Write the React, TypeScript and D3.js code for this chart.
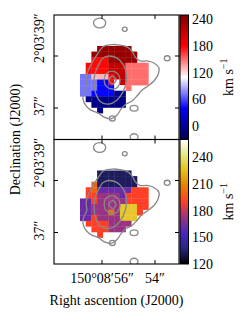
import React, { useEffect, useRef } from "react";
import * as d3 from "d3";

const _ = null;

// line-of-sight velocity (km/s), rows north->south, columns east->west
const velocity: (number | null)[][] = [
  [_, _, _, 238, 238, 238, 238, 238, 238, _, _, _],
  [_, _, 238, 238, 238, 238, 238, 238, 238, 238, _, _],
  [_, _, 178, 178, 178, 238, 238, 238, 238, 238, _, _],
  [_, 178, 178, 178, 178, 212, 212, 212, 150, 150, 150, 150],
  [_, 178, 178, 178, 178, 212, 212, 212, 150, 150, 150, 150],
  [72, 72, 130, 130, 130, 178, 212, 212, 150, 150, 150, 150],
  [72, 72, 72, 42, 42, 178, 108, 212, 150, 150, 150, 150],
  [72, 72, 72, 42, 42, 42, 108, 108, 150, _, _, _],
  [72, 72, 42, 42, 42, 42, -8, -8, _, _, _, _],
  [_, -8, -8, -8, -8, -8, -8, -8, _, _, _, _],
  [_, _, -8, -8, -8, -8, -8, -8, _, _, _, _],
  [_, _, _, -8, _, _, _, _, _, _, _, _],
];

// velocity dispersion (km/s)
const dispersion: (number | null)[][] = [
  [_, _, _, 133, 133, 133, 133, 133, 133, _, _, _],
  [_, _, _, 133, 133, 133, 133, 133, 133, 133, _, _],
  [_, _, 200, 133, 133, 133, 133, 133, 133, 133, _, _],
  [_, 190, 200, 162, 162, 162, 162, 162, 162, 190, 190, 190],
  [_, 190, 190, 172, 172, 172, 172, 162, 190, 190, 190, 190],
  [162, 162, 190, 172, 172, 172, 172, 172, 190, 190, 190, 190],
  [162, 162, 172, 172, 172, 172, 172, 228, 228, 228, 190, 190],
  [162, 162, 172, 172, 172, 205, 172, 228, 228, 228, 190, _],
  [162, 162, 190, 172, 172, 172, 172, 228, 228, 228, _, _],
  [_, 190, 190, 190, 190, 172, 172, 172, 172, _, _, _],
  [_, _, 190, 190, 190, 172, 172, 172, _, _, _, _],
  [_, _, _, 190, _, _, _, _, _, _, _, _],
];

// map grid: NE corner (arcsec of 150°08' / 2°03') and pixel size
const gridRa0 = 56.83;
const gridDec0 = 39.385;
const gridPix = 0.215;

const velTicks = [0, 60, 120, 180, 240];
const sigTicks = [120, 150, 180, 210, 240];
const raTicks = [56, 54];
const raLabels = ["150°08′56″", "54″"];
const decTicks = [39, 37];
const decLabels = ["2°03′39″", "37″"];

// continuum contours, [ra", dec"]
const contourOuter: [number, number][] = [
  [55.92, 39.38], [55.62, 39.44], [55.32, 39.42], [55.06, 39.35], [54.87, 39.19],
  [54.75, 38.96], [54.57, 38.81], [54.3, 38.81], [54.04, 38.73], [53.85, 38.54],
  [53.89, 38.27], [54.04, 38.04], [54.26, 37.85], [54.49, 37.69], [54.68, 37.46],
  [54.87, 37.27], [55.09, 37.15], [55.28, 36.96], [55.43, 36.73], [55.66, 36.58],
  [55.92, 36.65], [56.15, 36.81], [56.42, 36.92], [56.6, 37.08], [56.72, 37.35],
  [56.68, 37.62], [56.57, 37.85], [56.6, 38.12], [56.53, 38.42], [56.38, 38.73],
  [56.19, 39.04], [56.04, 39.27],
];
const contourMid: [number, number][] = [
  [55.74, 39.0], [55.43, 38.92], [55.21, 38.69], [55.09, 38.38], [55.09, 38.0],
  [55.21, 37.62], [55.43, 37.31], [55.74, 37.15], [56.04, 37.23], [56.23, 37.54],
  [56.3, 37.92], [56.26, 38.35], [56.11, 38.69], [55.96, 38.92],
];
const contourInner: [number, number][] = [
  [55.62, 38.42], [55.4, 38.31], [55.32, 38.08], [55.4, 37.81],
  [55.62, 37.73], [55.85, 37.85], [55.92, 38.08], [55.85, 38.31],
];
const contourCore: [number, number][] = [
  [55.6, 38.23], [55.47, 38.08], [55.6, 37.92], [55.74, 38.08],
];
// small blobs: [ra", dec", rRa", rDec"]
const blobs: [number, number, number, number][] = [
  [56.09, 40.27, 0.23, 0.19],
  [55.14, 40.03, 0.09, 0.08],
  [53.54, 38.91, 0.11, 0.1],
  [54.79, 36.99, 0.15, 0.11],
  [55.61, 36.6, 0.11, 0.1],
  [54.79, 35.88, 0.15, 0.13],
];

const seismic = d3
  .scaleLinear<string>()
  .domain([-30, 40, 110, 180, 250])
  .range(["#00004d", "#0000ff", "#ffffff", "#ff0000", "#800000"])
  .clamp(true);

const cmrStops = [0, 0.125, 0.25, 0.375, 0.5, 0.625, 0.75, 0.875, 1];
const cmrmap = d3
  .scaleLinear<string>()
  .domain(cmrStops.map((t) => 120 + t * 140))
  .range(["#000000", "#262680", "#4d26bf", "#993380", "#ff4026", "#e68000", "#e6bf1a", "#e6e680", "#ffffff"])
  .clamp(true);

const panels = [
  { grid: velocity, color: seismic, domain: [-30, 250], ticks: velTicks, top: 15 },
  { grid: dispersion, color: cmrmap, domain: [120, 260], ticks: sigTicks, top: 139.5 },
];

const font = "Liberation Serif, Times New Roman, serif";

const App: React.FC = () => {
  const svgRef = useRef<SVGSVGElement>(null);

  useEffect(() => {
    const svg = d3.select(svgRef.current);
    svg.selectAll("*").remove();

    const left = 54;
    const pw = 125;
    const ph = 124.5;
    const cbX = 180;
    const cbW = 8.5;

    const x = d3.scaleLinear().domain([56, 54]).range([48, 101]);
    const y = d3.scaleLinear().domain([39, 37]).range([41, 93]);

    const line = d3
      .line<[number, number]>()
      .x((d) => x(d[0]))
      .y((d) => y(d[1]))
      .curve(d3.curveCatmullRomClosed);

    const defs = svg.append("defs");

    panels.forEach((p, i) => {
      const g = svg.append("g").attr("transform", `translate(${left},${p.top})`);

      defs
        .append("clipPath")
        .attr("id", `clip${i}`)
        .append("rect")
        .attr("width", pw)
        .attr("height", ph);

      const inner = g.append("g").attr("clip-path", `url(#clip${i})`);

      // pixels
      p.grid.forEach((row, r) => {
        row.forEach((v, c) => {
          if (v === null) return;
          const x0 = x(gridRa0 - c * gridPix);
          const x1 = x(gridRa0 - (c + 1) * gridPix);
          const y0 = y(gridDec0 - r * gridPix);
          const y1 = y(gridDec0 - (r + 1) * gridPix);
          inner
            .append("rect")
            .attr("x", x0)
            .attr("y", y0)
            .attr("width", x1 - x0 + 0.3)
            .attr("height", y1 - y0 + 0.3)
            .attr("fill", p.color(v));
        });
      });

      // contours
      [contourOuter, contourMid, contourInner, contourCore].forEach((pts) => {
        inner
          .append("path")
          .attr("d", line(pts))
          .attr("fill", "none")
          .attr("stroke", "#888")
          .attr("stroke-width", 1.3);
      });
      blobs.forEach((b) => {
        inner
          .append("ellipse")
          .attr("cx", x(b[0]))
          .attr("cy", y(b[1]))
          .attr("rx", b[2] * 26.5)
          .attr("ry", b[3] * 26)
          .attr("fill", "none")
          .attr("stroke", "#888")
          .attr("stroke-width", 1.3);
      });

      // frame
      g.append("rect")
        .attr("width", pw)
        .attr("height", ph)
        .attr("fill", "none")
        .attr("stroke", "black")
        .attr("stroke-width", 1.1);

      // ticks (inward)
      raTicks.forEach((t) => {
        g.append("line").attr("x1", x(t)).attr("x2", x(t)).attr("y1", 0).attr("y2", 4).attr("stroke", "black");
        g.append("line").attr("x1", x(t)).attr("x2", x(t)).attr("y1", ph).attr("y2", ph - 4).attr("stroke", "black");
      });
      decTicks.forEach((t, k) => {
        g.append("line").attr("x1", 0).attr("x2", 4).attr("y1", y(t)).attr("y2", y(t)).attr("stroke", "black");
        g.append("line").attr("x1", pw).attr("x2", pw - 4).attr("y1", y(t)).attr("y2", y(t)).attr("stroke", "black");
        const lbl = g
          .append("text")
          .attr("font-family", font)
          .attr("font-size", 14)
          .text(decLabels[k]);
        if (k === 0) {
          lbl.attr("text-anchor", "start").attr("transform", `translate(-10,${y(t) + 7}) rotate(-90)`);
        } else {
          lbl.attr("text-anchor", "middle").attr("transform", `translate(-10,${y(t) - 2}) rotate(-90)`);
        }
      });

      // colorbar
      const cb = d3.scaleLinear().domain(p.domain).range([ph, 0]);
      const gradId = `grad${i}`;
      const grad = defs
        .append("linearGradient")
        .attr("id", gradId)
        .attr("x1", 0)
        .attr("y1", 1)
        .attr("x2", 0)
        .attr("y2", 0);
      d3.range(0, 41).forEach((k) => {
        const t = k / 40;
        grad
          .append("stop")
          .attr("offset", t)
          .attr("stop-color", p.color(p.domain[0] + t * (p.domain[1] - p.domain[0])));
      });
      const cg = svg.append("g").attr("transform", `translate(${cbX},${p.top})`);
      cg.append("rect")
        .attr("width", cbW)
        .attr("height", ph)
        .attr("fill", `url(#${gradId})`)
        .attr("stroke", "black")
        .attr("stroke-width", 1);
      p.ticks.forEach((t) => {
        cg.append("text")
          .attr("x", 12)
          .attr("y", cb(t))
          .attr("dy", "0.35em")
          .attr("font-family", font)
          .attr("font-size", 14)
          .text(t);
      });
      const unit = cg
        .append("text")
        .attr("text-anchor", "middle")
        .attr("font-family", font)
        .attr("font-size", 14)
        .attr("transform", `translate(53,${ph / 2}) rotate(-90)`);
      unit.append("tspan").text("km s");
      unit.append("tspan").attr("dy", -6).attr("font-size", 10).text("−1");
    });

    // x tick labels below lower panel
    raTicks.forEach((t, k) => {
      svg
        .append("text")
        .attr("x", left + x(t))
        .attr("y", 283)
        .attr("text-anchor", "middle")
        .attr("font-family", font)
        .attr("font-size", 14)
        .text(raLabels[k]);
    });

    svg
      .append("text")
      .attr("x", left + pw / 2)
      .attr("y", 304.5)
      .attr("text-anchor", "middle")
      .attr("font-family", font)
      .attr("font-size", 14)
      .text("Right ascention (J2000)");

    svg
      .append("text")
      .attr("text-anchor", "middle")
      .attr("font-family", font)
      .attr("font-size", 14)
      .attr("transform", `translate(19.5,${15 + ph})rotate(-90)`)
      .text("Declination (J2000)");

    return () => {
      svg.selectAll("*").remove();
    };
  }, []);

  return (
    <svg
      ref={svgRef}
      width={243}
      height={317}
      style={{ position: "absolute", left: 0, top: 0, background: "white" }}
    />
  );
};

export default App;
